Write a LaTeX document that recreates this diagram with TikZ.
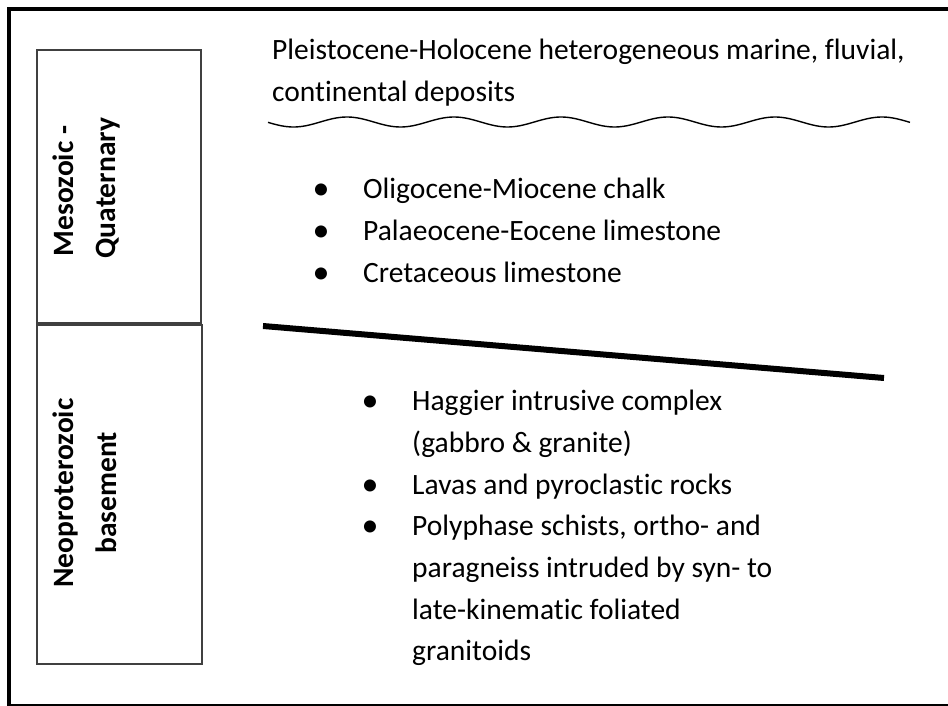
\documentclass[tikz,border=0pt]{standalone}
\usepackage{fontspec}
\setmainfont[Ligatures=CommonOff]{Carlito}
\begin{document}
\begin{tikzpicture}[x=1pt, y=-1pt]
    \tikzset{
        txt/.style={anchor=base west, inner sep=0pt, font=\fontsize{29.5}{42}\selectfont},
        bul/.style={anchor=base, inner sep=0pt, font=\fontsize{34}{42}\selectfont},
        era/.style={anchor=base, rotate=90, inner sep=0pt, font=\fontsize{29.5}{42}\selectfont\bfseries},
        column/.style={draw=black!75, line width=1.5pt}
    }
    \useasboundingbox (0,0) rectangle (948,706);
    \clip (0,0) rectangle (948,706);

    % --- Outer frame (cut at right and bottom) ---
    \draw[line width=4.5pt] (9,9) rectangle (990,706);

    % --- Age column on the left ---
    \draw[column] (37,50) rectangle (201,323);
    \draw[column] (37,325) rectangle (202,664);
    \node[era] (meso)  at (73,191)  {Mesozoic -};
    \node[era] (quat)  at (115,188) {Quaternary};
    \node[era] (neo)   at (73,493)  {Neoproterozoic};
    \node[era] (basem) at (116,493) {basement};

    % --- Cover deposits ---
    \node[txt] (plei1) at (272,60)  {Pleistocene-Holocene heterogeneous marine, fluvial,};
    \node[txt] (plei2) at (272,102) {continental deposits};

    % unconformity (wavy line)
    \draw[line width=1.4pt] plot[domain=268:910, samples=140, smooth]
        (\x, {122-5*cos(3.3645*(\x-347))});

    % --- Sedimentary succession ---
    \node[bul] (b1) at (321,199) {•};
    \node[txt] (sed1) at (363,198) {Oligocene-Miocene chalk};
    \node[bul] (b2) at (321,241) {•};
    \node[txt] (sed2) at (363,240) {Palaeocene-Eocene limestone};
    \node[bul] (b3) at (321,283) {•};
    \node[txt] (sed3) at (363,282) {Cretaceous limestone};

    % unconformity (thick straight line)
    \draw[line width=6pt] (263,326) -- (884,378);

    % --- Basement rocks ---
    \node[bul] (b4) at (370,411) {•};
    \node[txt] (bas1) at (412,410) {Haggier intrusive complex};
    \node[txt] (bas2) at (412,452) {(gabbro \& granite)};
    \node[bul] (b5) at (370,495) {•};
    \node[txt] (bas3) at (412,494) {Lavas and pyroclastic rocks};
    \node[bul] (b6) at (370,536) {•};
    \node[txt] (bas4) at (412,535) {Polyphase schists, ortho- and};
    \node[txt] (bas5) at (412,577) {paragneiss intruded by syn- to};
    \node[txt] (bas6) at (412,619) {late-kinematic foliated};
    \node[txt] (bas7) at (412,660) {granitoids};

\end{tikzpicture}
\end{document}
